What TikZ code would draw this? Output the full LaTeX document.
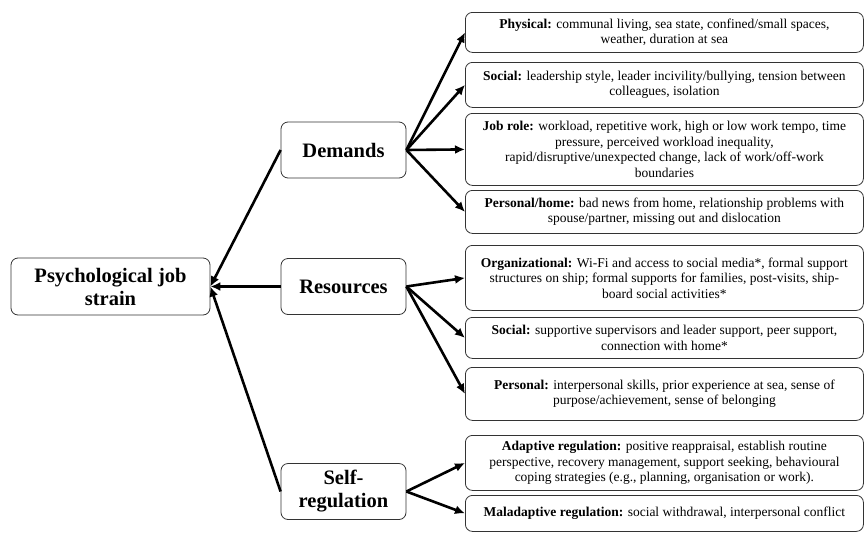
\documentclass[tikz,border=0pt]{standalone}
\usepackage{fontspec}
\setmainfont{Liberation Serif}
\usetikzlibrary{arrows.meta,positioning}

\begin{document}
\begin{tikzpicture}[x=1pt,y=-1pt,
  box/.style={rectangle,draw=black!80,rounded corners=7pt,line width=.8pt,align=center,inner sep=2pt},
  head/.style={box,font=\fontsize{20.5}{23}\selectfont\bfseries,minimum width=125pt,minimum height=56pt},
  item/.style={box,anchor=north west,minimum width=398pt,font=\fontsize{13.5}{15.5}\selectfont},
  link/.style={line width=2.6pt,-{Latex[length=10pt,width=9pt]}}]

\useasboundingbox (0,0) rectangle (864,533);

% Nodes
\node[head,minimum width=199pt,minimum height=57pt] (strain) at (110.5,286.5) {Psychological job\\strain};
\node[head] (demands) at (343.5,150) {Demands};
\node[head] (resources) at (343.5,286.5) {Resources};
\node[head] (selfreg) at (343.5,491.5) {Self-\\regulation};

% demands
\node[item,minimum height=40pt] (physical) at (465,12) {\textbf{Physical:} communal living, sea state, confined/small spaces,\\weather, duration at sea};
\node[item,minimum height=45pt] (dsocial) at (465,62) {\textbf{Social:} leadership style, leader incivility/bullying, tension between\\colleagues, isolation};
\node[item,minimum height=72pt] (jobrole) at (465,113) {\textbf{Job role:} workload, repetitive work, high or low work tempo, time\\pressure, perceived workload inequality,\\rapid/disruptive/unexpected change, lack of work/off-work\\boundaries};
\node[item,minimum height=43pt] (home) at (465,190) {\textbf{Personal/home:} bad news from home, relationship problems with\\spouse/partner, missing out and dislocation};

% resources
\node[item,minimum height=65pt] (organ) at (465,245) {\textbf{Organizational:} Wi-Fi and access to social media*, formal support\\structures on ship; formal supports for families, post-visits, ship-\\board social activities*};
\node[item,minimum height=41pt] (rsocial) at (465,317) {\textbf{Social:} supportive supervisors and leader support, peer support,\\connection with home*};
\node[item,minimum height=53pt] (personal) at (465,367) {\textbf{Personal:} interpersonal skills, prior experience at sea, sense of\\purpose/achievement, sense of belonging};

% self-regulation
\node[item,minimum height=55pt] (adaptive) at (465,435) {\textbf{Adaptive regulation:} positive reappraisal, establish routine\\perspective, recovery management, support seeking, behavioural\\coping strategies (e.g., planning, organisation or work).};
\node[item,minimum height=36pt] (maladaptive) at (465,495) {\textbf{Maladaptive regulation:} social withdrawal, interpersonal conflict};

%arcs
\path (demands.west) edge[link] (strain.east);
\path (resources.west) edge[link] (strain.east);
\path (selfreg.west) edge[link] (strain.east);

\path (demands.east) edge[link] (physical.west);
\path (demands.east) edge[link] (dsocial.west);
\path (demands.east) edge[link] (jobrole.west);
\path (demands.east) edge[link] (home.west);

\path (resources.east) edge[link] (organ.west);
\path (resources.east) edge[link] (rsocial.west);
\path (resources.east) edge[link] (personal.west);

\path (selfreg.east) edge[link] (adaptive.west);
\path (selfreg.east) edge[link] (maladaptive.west);

\end{tikzpicture}
\end{document}
